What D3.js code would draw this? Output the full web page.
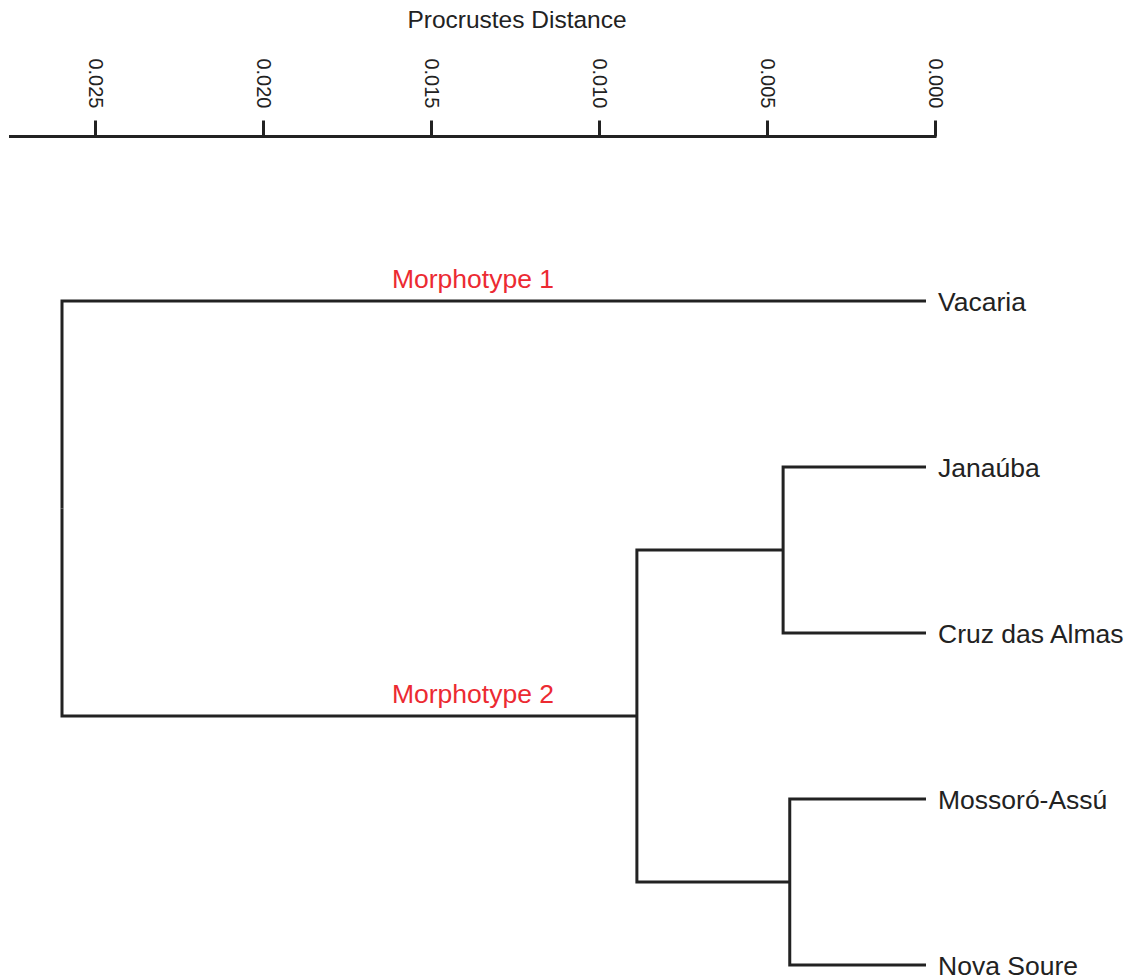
<!DOCTYPE html>
<html lang="en">
<head>
    <meta charset="UTF-8">
    <title>Procrustes Distance Dendrogram</title>
    <script src="https://d3js.org/d3.v7.min.js"></script>
    <style>
        body {
            margin: 0;
            padding: 0;
            background-color: #fff;
            font-family: "Liberation Sans", Arial, sans-serif;
        }
        svg { display: block; }
        .branch { fill: none; stroke: #222; stroke-width: 3; stroke-linecap: butt; stroke-linejoin: miter; }
        .leaf-label { font-size: 26.5px; fill: #222; }
        .group-label { font-size: 26.5px; fill: #ec2a32; text-anchor: middle; }
    </style>
</head>
<body>
    <div id="chart"></div>

    <script>
        const width = 1133;
        const height = 978;

        // Leaves, top to bottom
        const leaves = ["Vacaria", "Janaúba", "Cruz das Almas", "Mossoró-Assú", "Nova Soure"];

        // Internal nodes: id, parent, height (Procrustes distance)
        const nodeIds = ["root", "n3", "n1", "n2"];
        const nodeParents = ["", "root", "n3", "n3"];
        const nodeHeights = [0.026, 0.0087, 0.0043, 0.0041];

        // Parent of each leaf
        const leafParents = ["root", "n1", "n1", "n2", "n2"];

        // Group labels on branches
        const groupLabels = [
            { node: "Vacaria", text: "Morphotype 1" },
            { node: "n3", text: "Morphotype 2" }
        ];

        const axisTicks = [0.025, 0.020, 0.015, 0.010, 0.005, 0.000];

        const svg = d3.select("#chart")
            .append("svg")
            .attr("width", width)
            .attr("height", height);

        // Title
        svg.append("text")
            .attr("x", 517)
            .attr("y", 28)
            .attr("text-anchor", "middle")
            .style("font-size", "24.5px")
            .style("fill", "#222")
            .text("Procrustes Distance");

        // Axis scale
        const axisScale = d3.scaleLinear()
            .domain([0, 0.025])
            .range([935, 95]);

        const axisY = 136.5;
        const axisG = svg.append("g")
            .attr("transform", `translate(0,${axisY})`);

        axisG.append("line")
            .attr("x1", 9)
            .attr("x2", axisScale(0) + 1.5)
            .attr("stroke", "#222")
            .attr("stroke-width", 3);

        axisG.call(d3.axisTop(axisScale)
                .tickValues(axisTicks)
                .tickSize(16)
                .tickFormat(d3.format(".3f")))
            .call(g => g.select(".domain").remove())
            .call(g => g.selectAll(".tick line")
                .attr("stroke", "#222")
                .attr("stroke-width", 3))
            .call(g => g.selectAll(".tick text")
                .attr("transform", "rotate(90)")
                .attr("x", -28)
                .attr("y", 0)
                .attr("dy", "0.35em")
                .attr("text-anchor", "end")
                .attr("fill", "#222")
                .style("font-size", "20px")
                .style("font-family", "'Liberation Sans', Arial, sans-serif"));

        // Build hierarchy
        const rows = nodeIds.map((id, i) => ({ id, parent: nodeParents[i], h: nodeHeights[i] }))
            .concat(leaves.map((id, i) => ({ id, parent: leafParents[i], h: 0 })));

        const root = d3.stratify()
            .id(d => d.id)
            .parentId(d => d.parent || null)(rows);

        const treeX = d3.scaleLinear()
            .domain([0, 0.026])
            .range([926, 62]);

        const leafY = d3.scalePoint()
            .domain(leaves)
            .range([301, 965]);

        // y positions: leaves from scale, internal nodes as midpoint of children
        root.eachAfter(n => {
            if (!n.children) n.y = leafY(n.id);
            else n.y = d3.mean(n.children, c => c.y);
            n.x = treeX(n.data.h);
        });

        // Branches (elbow)
        svg.append("g")
            .selectAll("path")
            .data(root.links())
            .join("path")
            .attr("class", "branch")
            .attr("d", l => `M${l.source.x},${l.source.y}V${l.target.y}H${l.target.x}`);

        // Leaf labels
        svg.append("g")
            .selectAll("text")
            .data(root.leaves())
            .join("text")
            .attr("class", "leaf-label")
            .attr("x", d => d.x + 12)
            .attr("y", d => d.y)
            .attr("dy", "0.36em")
            .text(d => d.id);

        // Morphotype labels
        const labelX = 473;
        svg.append("g")
            .selectAll("text")
            .data(groupLabels)
            .join("text")
            .attr("class", "group-label")
            .attr("x", labelX)
            .attr("y", d => root.find(n => n.id === d.node).y - 13)
            .text(d => d.text);
    </script>
</body>
</html>
